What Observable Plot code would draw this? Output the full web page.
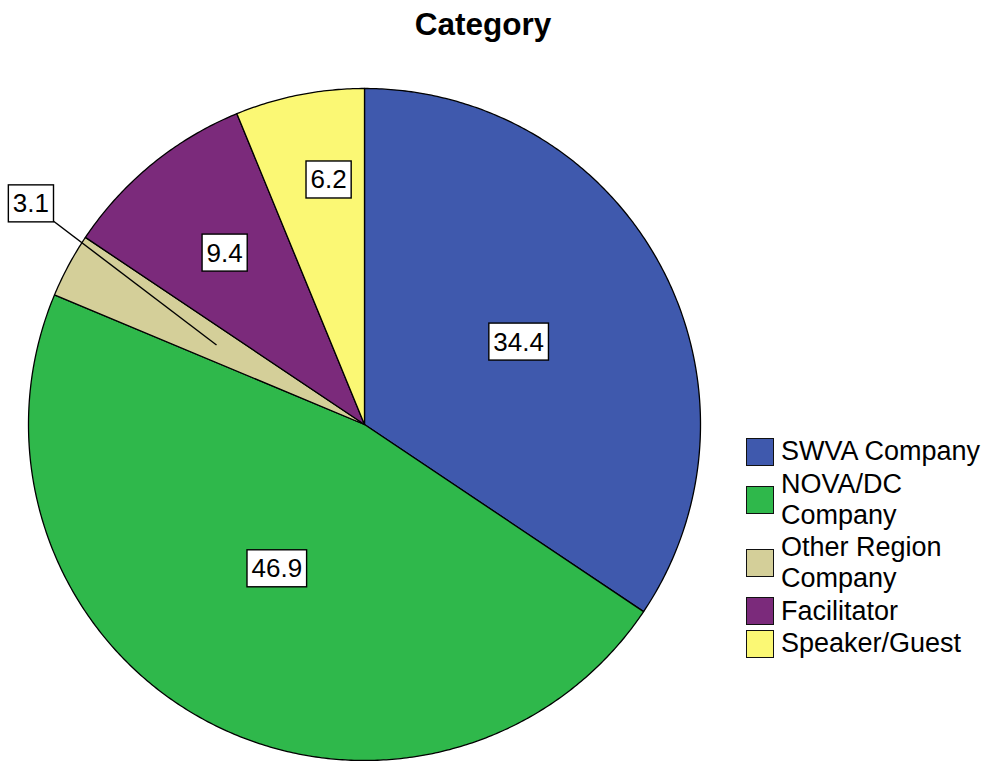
<!DOCTYPE html>
<html>
<head>
<meta charset="utf-8">
<script src="https://cdn.jsdelivr.net/npm/d3@7"></script>
<script src="https://cdn.jsdelivr.net/npm/@observablehq/plot@0.6"></script>
<style>
  html, body { margin: 0; padding: 0; background: #fff; }
  #wrap { position: relative; width: 990px; height: 761px; font-family: "Liberation Sans", Arial, sans-serif; overflow: hidden; }
  #title { position: absolute; top: 6px; left: 0; width: 966px; text-align: center; font-weight: bold; font-size: 31.5px; color: #000; }
  #legend { position: absolute; left: 746px; top: 436px; width: 244px; }
  .item { display: flex; align-items: center; margin-bottom: 1.5px; }
  .sw { width: 26px; height: 26px; border: 1.5px solid #111; flex: none; }
  .lab { margin-left: 7px; width: 210px; font-size: 27px; line-height: 31px; color: #000; white-space: normal; }
  #chart { position: absolute; left: 0; top: 0; }
</style>
</head>
<body>
<div id="wrap">
  <div id="chart"></div>
  <div id="title">Category</div>
  <div id="legend"></div>
</div>
<script>
// ---- data ----
const categories = ["SWVA Company", "NOVA/DC Company", "Other Region Company", "Facilitator", "Speaker/Guest"];
const values = [34.4, 46.9, 3.1, 9.4, 6.2];
const labels = ["34.4", "46.9", "3.1", "9.4", "6.2"];
const colors = ["#3f59ad", "#2fb84b", "#d4cf99", "#7b2a7b", "#fbf874"];
// label placement (fraction of radius, angular shift in degrees)
const labelRadius = [0.52, 0.503, 1.19, 0.658, 0.735];
const labelShift = [0, 3, 5.2, 0, 2.8];
const leader = [false, false, true, false, false];

// ---- geometry through d3.pie ----
const pie = d3.pie().sort(null).value(d => d)(values);
const toXY = (deg, r) => {
  const t = deg * Math.PI / 180;
  return [r * Math.sin(t), r * Math.cos(t)];
};
const polyPts = [];
pie.forEach((p, i) => {
  const a0 = p.startAngle * 180 / Math.PI, a1 = p.endAngle * 180 / Math.PI;
  polyPts.push({cat: categories[i], x: 0, y: 0});
  const n = Math.max(2, Math.ceil((a1 - a0) / 0.5));
  for (let k = 0; k <= n; k++) {
    const [x, y] = toXY(a0 + (a1 - a0) * k / n, 1);
    polyPts.push({cat: categories[i], x, y});
  }
});
const labelPts = pie.map((p, i) => {
  const mid = (p.startAngle + p.endAngle) / 2 * 180 / Math.PI;
  const [x, y] = toXY(mid + labelShift[i], labelRadius[i]);
  const [ix, iy] = toXY(mid, 0.5);
  return {cat: categories[i], label: labels[i], x, y, ix, iy, leader: leader[i]};
});

const chart = Plot.plot({
  width: 990,
  height: 761,
  margin: 0,
  x: {domain: [-1, 1], range: [28, 700], axis: null},
  y: {domain: [-1, 1], range: [760, 88], axis: null},
  color: {domain: categories, range: colors},
  style: {fontFamily: '"Liberation Sans", Arial, sans-serif', background: "white"},
  marks: [
    Plot.line(polyPts, {x: "x", y: "y", z: "cat", fill: "cat", stroke: "#000", strokeWidth: 1.3, curve: "linear-closed", strokeLinejoin: "round"}),
    Plot.link(labelPts.filter(d => d.leader), {x1: "x", y1: "y", x2: "ix", y2: "iy", stroke: "#000", strokeWidth: 1.4}),
    Plot.text(labelPts, {x: "x", y: "y", text: "label", fontSize: 26, fill: "#000", className: "slice-label"})
  ]
});
document.getElementById("chart").appendChild(chart);

// white boxes behind labels
d3.select(chart).selectAll(".slice-label text").each(function() {
  const bb = this.getBBox();
  const padX = 4.5, padY = 3.5;
  d3.select(this.parentNode).insert("rect", () => this)
    .attr("x", bb.x - padX).attr("y", bb.y - padY)
    .attr("width", bb.width + 2 * padX).attr("height", bb.height + 2 * padY)
    .attr("fill", "#fff").attr("stroke", "#000").attr("stroke-width", 1.4)
    .attr("transform", this.getAttribute("transform"));
});

// legend
const leg = d3.select("#legend");
categories.forEach((c, i) => {
  const it = leg.append("div").attr("class", "item");
  it.append("div").attr("class", "sw").style("background", colors[i]);
  it.append("div").attr("class", "lab").text(c);
});
</script>
</body>
</html>
